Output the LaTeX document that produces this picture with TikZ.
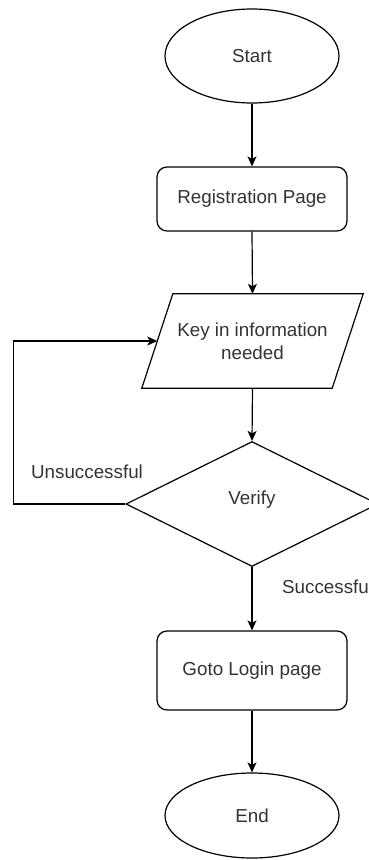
\documentclass[tikz,border=0pt]{standalone}
\usepackage{fontspec}
\setmainfont{Liberation Sans}
\usetikzlibrary{shapes.geometric,arrows.meta,calc}
\definecolor{txt}{RGB}{51,51,51}
\begin{document}
\begin{tikzpicture}[x=1pt,y=-1pt,
  every node/.style={font=\fontsize{18.8}{23}\selectfont, text=txt},
  shp/.style={draw=black, line width=1.2pt, inner sep=0pt},
  term/.style={shp, ellipse, minimum width=174pt, minimum height=94pt},
  proc/.style={shp, rectangle, rounded corners=10pt, minimum width=190pt},
  dec/.style={shp, diamond, minimum width=252pt, minimum height=125pt},
  io/.style={inner sep=0pt, minimum width=190pt, minimum height=94pt, align=center},
  flow/.style={line width=1.2pt, -{Stealth[length=10pt,width=9pt,inset=2.5pt]}},
  lbl/.style={inner sep=0pt}
]
\useasboundingbox (0,0) rectangle (369,860);
\node[term] (start) at (252,56) {Start};
\node[proc, minimum height=64pt] (reg) at (252,199) {Registration Page};
\node[io] (key) at (252.5,341) {Key in information\\needed};
\draw[line width=1.2pt] ($(key.north west)+(15.5,0)$) -- ($(key.north east)+(15.5,0)$)
  -- ($(key.south east)+(-15.5,0)$) -- ($(key.south west)+(-15.5,0)$) -- cycle;
\node[dec] (verify) at (252,504) {};
\node[lbl] (vtxt) at (252,500) {Verify};
\node[proc, minimum height=79pt] (login) at (252,670.5) {Goto Login page};
\node[term, minimum height=85pt] (end) at (252,815.5) {End};
\node[lbl] (uns) at (87,472) {Unsuccessful};
\node[lbl, anchor=west] (suc) at (282,587) {Successful};

\draw[flow] (start.south) -- (reg.north);
\draw[flow] (reg.south) -- (key.north);
\draw[flow] (key.south) -- (verify.north);
\draw[flow] (verify.west) -- ++(-112,0) |- (key.west);
\draw[flow] (verify.south) -- (login.north);
\draw[flow] (login.south) -- (end.north);
\end{tikzpicture}
\end{document}
